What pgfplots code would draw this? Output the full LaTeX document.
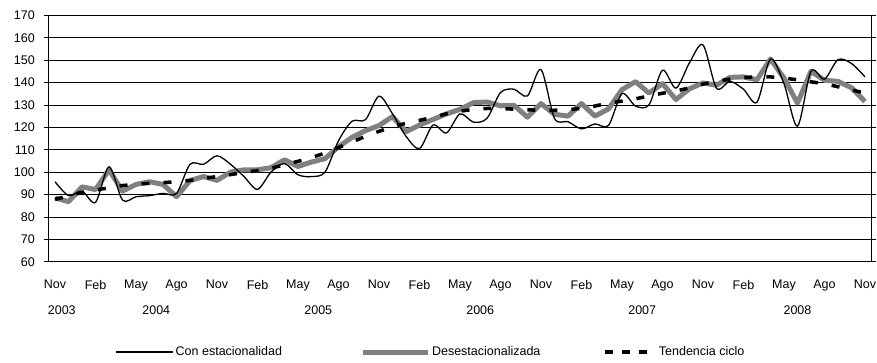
\documentclass[border=0pt]{standalone}
\usepackage{pgfplots}
\pgfplotsset{compat=1.18}
\usepackage{pgfplotstable}
\usepackage{fontspec}
\setmainfont{Liberation Sans}

\definecolor{grisdes}{RGB}{128,128,128}

% mes (0 = nov 2003), con estacionalidad, desestacionalizada, tendencia ciclo
\pgfplotstableread{
i con des ten
0 95.7 88.5 87.8
1 89.5 86.8 89.4
2 91.5 93.4 90.9
3 86.5 92.2 92.0
4 102.4 101.0 93.0
5 87.5 91.5 94.0
6 89.0 94.5 94.6
7 89.5 95.7 95.0
8 90.5 94.5 95.3
9 90.5 89.0 95.7
10 103.5 96.2 96.3
11 103.5 98.0 97.2
12 107.3 96.3 98.0
13 103.5 100.0 98.9
14 98.0 101.0 99.8
15 92.3 101.0 100.7
16 100.0 102.0 101.7
17 103.8 105.5 103.3
18 98.8 102.5 104.8
19 98.0 104.5 106.5
20 100.0 106.0 108.5
21 114.0 111.3 111.0
22 122.7 115.5 113.4
23 123.4 118.5 116.0
24 133.9 120.8 118.2
25 126.0 124.8 120.2
26 116.0 118.0 121.8
27 110.5 121.0 123.1
28 121.0 123.5 124.5
29 117.5 126.0 126.0
30 126.0 128.0 127.2
31 122.3 131.0 128.0
32 124.0 131.3 128.4
33 135.5 129.6 128.4
34 137.0 129.8 128.1
35 134.0 124.5 127.8
36 145.8 130.6 127.6
37 124.0 125.8 127.6
38 122.5 125.0 127.8
39 119.3 130.6 128.5
40 121.5 125.0 129.5
41 120.8 128.2 130.8
42 135.0 136.8 131.7
43 129.5 140.4 132.7
44 130.0 135.3 134.0
45 145.5 139.5 135.2
46 137.5 132.4 136.2
47 148.8 137.2 137.6
48 156.8 139.8 139.3
49 137.5 138.8 140.5
50 140.5 142.3 141.5
51 137.0 142.5 142.2
52 131.2 141.2 142.5
53 150.5 150.5 142.5
54 139.5 142.0 142.0
55 120.5 130.8 141.2
56 145.0 145.0 140.3
57 141.5 141.0 139.5
58 150.2 140.5 138.1
59 148.5 137.7 136.7
60 142.5 131.5 135.3
}\datos

\begin{document}
\begin{tikzpicture}
\useasboundingbox (-48.3pt,-100.3pt) rectangle (828.7pt,261.7pt);
\begin{axis}[
  at={(0pt,0pt)}, anchor=south west,
  scale only axis, width=823.4pt, height=246.4pt,
  xmin=-0.5, xmax=60.5, ymin=60, ymax=170,
  ytick={60,70,...,170},
  xtick={0,3,...,60},
  xticklabels={Nov,Feb,May,Ago,Nov,Feb,May,Ago,Nov,Feb,May,Ago,Nov,Feb,May,Ago,Nov,Feb,May,Ago,Nov},
  extra x ticks={0.5,7.5,19.5,31.5,43.5,55},
  extra x tick labels={2003,2004,2005,2006,2007,2008},
  extra x tick style={xticklabel style={yshift=-26pt}},
  ymajorgrids, grid style={black, line width=0.6pt},
  axis line style={black, line width=0.8pt},
  tick align=outside, major tick length=4pt,
  ytick style={black, line width=0.6pt},
  xtick style={draw=none},
  tick label style={font=\fontsize{12.5}{14}\selectfont},
  /pgf/number format/assume math mode=true,
  yticklabel style={xshift=-6pt},
  xticklabel style={yshift=-11pt},
  legend columns=3,
  legend style={at={(0.0815,-0.3665)}, anchor=west, draw=none, fill=none,
    inner sep=0pt, outer sep=0pt, font=\fontsize{12.5}{14}\selectfont,
    nodes={inner sep=0pt},
    /tikz/column 1/.style={column sep=2pt},
    /tikz/column 2/.style={column sep=78pt},
    /tikz/column 3/.style={column sep=2pt},
    /tikz/column 4/.style={column sep=63pt},
    /tikz/column 5/.style={column sep=10pt}},
  legend cell align=left,
]
\addplot[grisdes, line width=5pt, line join=round, forget plot] table[x=i, y=des] {\datos};
\addplot[black, line width=1.3pt, smooth, tension=0.5,
  legend image code/.code={\draw[black, line width=1.3pt] (0pt,0pt) -- (57pt,0pt);}]
  table[x=i, y=con] {\datos};
\addlegendentry{Con estacionalidad}
\addlegendimage{legend image code/.code={\draw[grisdes, line width=5pt] (0pt,0pt) -- (65pt,0pt);}}
\addlegendentry{Desestacionalizada}
\addplot[black, line width=3.5pt, dash pattern=on 8pt off 14pt,
  legend image code/.code={\draw[black, line width=3.5pt, dash pattern=on 8pt off 9pt] (0pt,0pt) -- (42pt,0pt);}]
  table[x=i, y=ten] {\datos};
\addlegendentry{Tendencia ciclo}
\end{axis}
\end{tikzpicture}
\end{document}
